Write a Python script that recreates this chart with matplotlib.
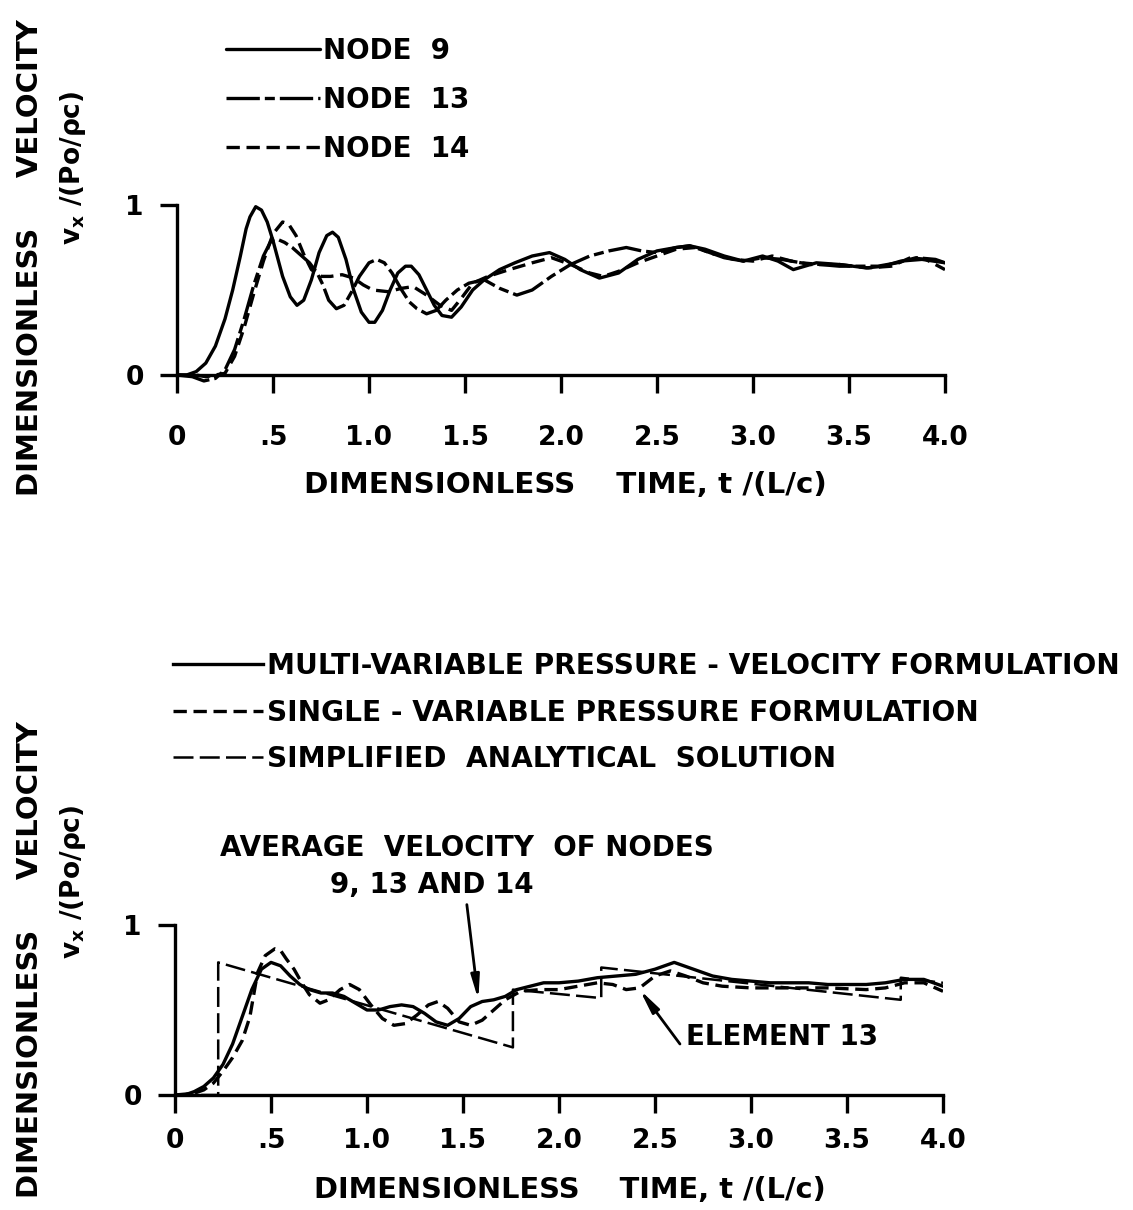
import matplotlib
matplotlib.use("Agg")
import matplotlib.pyplot as plt

plt.rcParams['font.family'] = ['DejaVu Sans']
plt.rcParams['font.weight'] = 'bold'

# ---------------- upper panel: nodal velocities ----------------
t_node9 = [0.00, 0.05, 0.10, 0.15, 0.20, 0.25, 0.29, 0.33, 0.36, 0.38, 0.41, 0.44, 0.47,
           0.50, 0.55, 0.59, 0.625, 0.66, 0.70, 0.74, 0.78, 0.81, 0.84, 0.88, 0.92, 0.96,
           1.00, 1.03, 1.07, 1.11, 1.15, 1.19, 1.22, 1.26, 1.30, 1.34, 1.38, 1.43, 1.48,
           1.54, 1.60, 1.68, 1.76, 1.85, 1.94, 2.02, 2.10, 2.20, 2.30, 2.40, 2.50, 2.60,
           2.67, 2.75, 2.85, 2.95, 3.05, 3.13, 3.21, 3.33, 3.45, 3.59, 3.68, 3.77, 3.88,
           4.00]
v_node9 = [0.00, 0.00, 0.02, 0.07, 0.17, 0.33, 0.50, 0.70, 0.86, 0.93, 0.99, 0.97, 0.90,
           0.79, 0.58, 0.46, 0.41, 0.44, 0.56, 0.72, 0.82, 0.84, 0.81, 0.68, 0.50, 0.37,
           0.31, 0.31, 0.38, 0.50, 0.60, 0.64, 0.64, 0.59, 0.50, 0.41, 0.35, 0.34, 0.40,
           0.50, 0.56, 0.62, 0.66, 0.70, 0.72, 0.68, 0.62, 0.57, 0.60, 0.68, 0.73, 0.75,
           0.76, 0.74, 0.70, 0.67, 0.70, 0.67, 0.62, 0.66, 0.65, 0.63, 0.64, 0.67, 0.68,
           0.66]

t_node13 = [0.00, 0.08, 0.14, 0.20, 0.25, 0.30, 0.35, 0.40, 0.45, 0.49, 0.52, 0.56, 0.60,
            0.65, 0.69, 0.73, 0.76, 0.79, 0.83, 0.87, 0.91, 0.95, 1.00, 1.04, 1.08, 1.12,
            1.17, 1.21, 1.25, 1.30, 1.35, 1.40, 1.46, 1.52, 1.60, 1.68, 1.77, 1.85, 1.95,
            2.05, 2.15, 2.25, 2.34, 2.42, 2.50, 2.60, 2.67, 2.75, 2.85, 2.95, 3.05, 3.15,
            3.25, 3.35, 3.45, 3.55, 3.65, 3.75, 3.85, 3.95, 4.00]
v_node13 = [0.00, -0.01, -0.035, -0.02, 0.03, 0.15, 0.33, 0.53, 0.70, 0.79, 0.80, 0.78, 0.75,
            0.70, 0.66, 0.60, 0.53, 0.44, 0.39, 0.41, 0.49, 0.58, 0.66, 0.68, 0.66, 0.60,
            0.50, 0.43, 0.39, 0.36, 0.38, 0.44, 0.50, 0.54, 0.56, 0.51, 0.47, 0.50, 0.58,
            0.65, 0.70, 0.73, 0.75, 0.73, 0.72, 0.75, 0.76, 0.73, 0.69, 0.67, 0.69, 0.68,
            0.66, 0.65, 0.64, 0.64, 0.64, 0.66, 0.69, 0.68, 0.66]

t_node14 = [0.00, 0.10, 0.15, 0.20, 0.25, 0.30, 0.35, 0.40, 0.45, 0.50, 0.55, 0.58, 0.62,
            0.66, 0.70, 0.75, 0.80, 0.86, 0.92, 0.97, 1.02, 1.10, 1.17, 1.23, 1.30, 1.37,
            1.43, 1.48, 1.54, 1.62, 1.73, 1.85, 1.95, 2.05, 2.15, 2.22, 2.30, 2.40, 2.50,
            2.60, 2.70, 2.80, 2.90, 3.00, 3.10, 3.20, 3.30, 3.45, 3.60, 3.72, 3.82, 3.90,
            4.00]
v_node14 = [0.00, 0.00, -0.01, 0.00, 0.01, 0.11, 0.28, 0.48, 0.67, 0.83, 0.90, 0.89, 0.82,
            0.71, 0.62, 0.58, 0.58, 0.59, 0.57, 0.53, 0.50, 0.49, 0.51, 0.52, 0.47, 0.41,
            0.38, 0.45, 0.54, 0.58, 0.62, 0.66, 0.69, 0.65, 0.60, 0.58, 0.61, 0.66, 0.70,
            0.74, 0.75, 0.71, 0.68, 0.67, 0.70, 0.67, 0.65, 0.65, 0.63, 0.64, 0.69, 0.68,
            0.62]

# ---------------- lower panel: formulation comparison ----------------
t_multi = [0.00, 0.05, 0.10, 0.15, 0.20, 0.25, 0.30, 0.35, 0.40, 0.45, 0.50, 0.55, 0.60,
           0.65, 0.70, 0.76, 0.82, 0.88, 0.94, 1.00, 1.06, 1.12, 1.18, 1.24, 1.30, 1.36,
           1.42, 1.48, 1.54, 1.60, 1.66, 1.72, 1.78, 1.85, 1.92, 2.00, 2.10, 2.20, 2.30,
           2.40, 2.50, 2.60, 2.70, 2.80, 2.90, 3.00, 3.10, 3.20, 3.30, 3.40, 3.50, 3.60,
           3.70, 3.80, 3.90, 4.00]
v_multi = [0.00, 0.00, 0.02, 0.05, 0.10, 0.18, 0.30, 0.46, 0.62, 0.74, 0.78, 0.76, 0.70,
           0.65, 0.62, 0.60, 0.60, 0.58, 0.54, 0.50, 0.50, 0.52, 0.53, 0.52, 0.48, 0.43,
           0.41, 0.45, 0.52, 0.55, 0.56, 0.58, 0.62, 0.64, 0.66, 0.66, 0.67, 0.69, 0.70,
           0.71, 0.74, 0.78, 0.74, 0.70, 0.68, 0.67, 0.66, 0.66, 0.66, 0.65, 0.65, 0.65,
           0.66, 0.68, 0.68, 0.64]

t_single = [0.00, 0.10, 0.15, 0.20, 0.25, 0.30, 0.35, 0.39, 0.43, 0.47, 0.52, 0.55, 0.58,
            0.62, 0.66, 0.70, 0.755, 0.80, 0.86, 0.91, 0.96, 1.02, 1.08, 1.14, 1.20, 1.26,
            1.32, 1.37, 1.42, 1.48, 1.54, 1.60, 1.66, 1.72, 1.80, 1.90, 2.00, 2.10, 2.20,
            2.28, 2.35, 2.42, 2.50, 2.58, 2.66, 2.75, 2.85, 3.00, 3.20, 3.40, 3.60, 3.70,
            3.80, 3.90, 4.00]
v_single = [0.00, 0.01, 0.03, 0.07, 0.14, 0.22, 0.32, 0.46, 0.72, 0.82, 0.86, 0.85, 0.80,
            0.74, 0.66, 0.59, 0.54, 0.56, 0.62, 0.65, 0.62, 0.53, 0.45, 0.41, 0.42, 0.47,
            0.53, 0.55, 0.51, 0.43, 0.41, 0.44, 0.50, 0.56, 0.61, 0.62, 0.62, 0.64, 0.66,
            0.65, 0.62, 0.63, 0.70, 0.73, 0.70, 0.66, 0.64, 0.63, 0.63, 0.63, 0.62, 0.63,
            0.66, 0.66, 0.61]

t_analytic = [0.00, 0.225, 0.225, 1.76, 1.76, 2.22, 2.22, 3.78, 3.78, 4.00]
v_analytic = [0.00, 0.00, 0.78, 0.28, 0.62, 0.57, 0.75, 0.56, 0.69, 0.66]

x_ticks = [0, 0.5, 1.0, 1.5, 2.0, 2.5, 3.0, 3.5, 4.0]
x_tick_labels = ['0', '.5', '1.0', '1.5', '2.0', '2.5', '3.0', '3.5', '4.0']
y_ticks = [0, 1]
y_tick_labels = ['0', '1']

W, H = 1133, 1210
fig = plt.figure(figsize=(W / 100, H / 100), dpi=100)

FS = 19
XLABEL = 'DIMENSIONLESS    TIME, t /(L/c)'
YLABEL = 'DIMENSIONLESS     VELOCITY'


def frame(ax, xpad):
    ax.set_xlim(0, 4.0)
    ax.set_ylim(-0.1, 1.05)
    for s in ('top', 'right'):
        ax.spines[s].set_visible(False)
    ax.spines['bottom'].set_position(('data', 0))
    ax.spines['bottom'].set_bounds(0, 4.0)
    ax.spines['left'].set_bounds(0, 1)
    for s in ('bottom', 'left'):
        ax.spines[s].set_linewidth(2.4)
    ax.set_xticks(x_ticks)
    ax.set_xticklabels(x_tick_labels)
    ax.set_yticks(y_ticks)
    ax.set_yticklabels(y_tick_labels)
    ax.tick_params(axis='x', direction='out', length=13, width=2.4, pad=xpad, labelsize=FS)
    ax.tick_params(axis='y', direction='out', length=12, width=2.4, pad=12, labelsize=FS)


# upper axes
ax1 = fig.add_axes([177 / W, 1 - 392 / H, 768 / W, 195.5 / H])
frame(ax1, 23)
l9, = ax1.plot(t_node9, v_node9, color='black', lw=2.4, solid_capstyle='round')
l13, = ax1.plot(t_node13, v_node13, color='black', lw=2.4, dashes=(10, 1.5, 3, 1.5))
l14, = ax1.plot(t_node14, v_node14, color='black', lw=2.4, dashes=(4, 2))
ax1.legend([l9, l13, l14], ['NODE  9', 'NODE  13', 'NODE  14'],
           loc='upper left', bbox_to_anchor=(226 / W, 1 - 37 / H),
           bbox_transform=fig.transFigure, frameon=False, fontsize=20,
           handlelength=3.4, handletextpad=0.1, labelspacing=0.75,
           borderpad=0, borderaxespad=0)

# lower axes
ax2 = fig.add_axes([175 / W, 1 - 1112 / H, 768 / W, 195.5 / H])
frame(ax2, 11)
lm, = ax2.plot(t_multi, v_multi, color='black', lw=2.4)
ls, = ax2.plot(t_single, v_single, color='black', lw=2.4, dashes=(4, 2))
la, = ax2.plot(t_analytic, v_analytic, color='black', lw=1.8, dashes=(8, 2.5))
ax2.legend([lm, ls, la],
           ['MULTI-VARIABLE PRESSURE - VELOCITY FORMULATION',
            'SINGLE - VARIABLE PRESSURE FORMULATION',
            'SIMPLIFIED  ANALYTICAL  SOLUTION'],
           loc='upper left', bbox_to_anchor=(173 / W, 1 - 652 / H),
           bbox_transform=fig.transFigure, frameon=False, fontsize=20.2,
           handlelength=3.2, handletextpad=0.15, labelspacing=0.66,
           borderpad=0, borderaxespad=0)

arrow = dict(arrowstyle='-|>,head_length=1.4,head_width=0.25', color='black', lw=2.0,
             shrinkA=0, shrinkB=0)
ax2.annotate('', xy=(1.58, 0.56), xytext=(1.52, 1.12), arrowprops=arrow,
             annotation_clip=False)
ax2.text(1.52, 1.45, 'AVERAGE  VELOCITY  OF NODES', ha='center', va='center',
         fontsize=20, fontweight='bold')
ax2.text(1.34, 1.235, '9, 13 AND 14', ha='center', va='center',
         fontsize=20, fontweight='bold')
ax2.annotate('', xy=(2.42, 0.62), xytext=(2.63, 0.30), arrowprops=arrow)
ax2.text(2.66, 0.34, 'ELEMENT 13', ha='left', va='center',
         fontsize=20, fontweight='bold')

# horizontal axis titles
fig.text(565 / W, 1 - 485 / H, XLABEL, ha='center', va='center',
         fontsize=21.2, fontweight='bold')
fig.text(570 / W, 1 - 1190 / H, XLABEL, ha='center', va='center',
         fontsize=20.8, fontweight='bold')

# vertical axis titles
for yc1, yc2 in ((258, 168), (960, 882)):
    fig.text(30 / W, 1 - yc1 / H, YLABEL, rotation=90,
             ha='center', va='center', fontsize=21, fontweight='bold')
    fig.text(73 / W, 1 - yc2 / H, 'v$_\\mathbf{x}$ /(Po/ρc)', rotation=90,
             ha='center', va='center', fontsize=FS, fontweight='bold')

fig.savefig('out.png', dpi=100)
